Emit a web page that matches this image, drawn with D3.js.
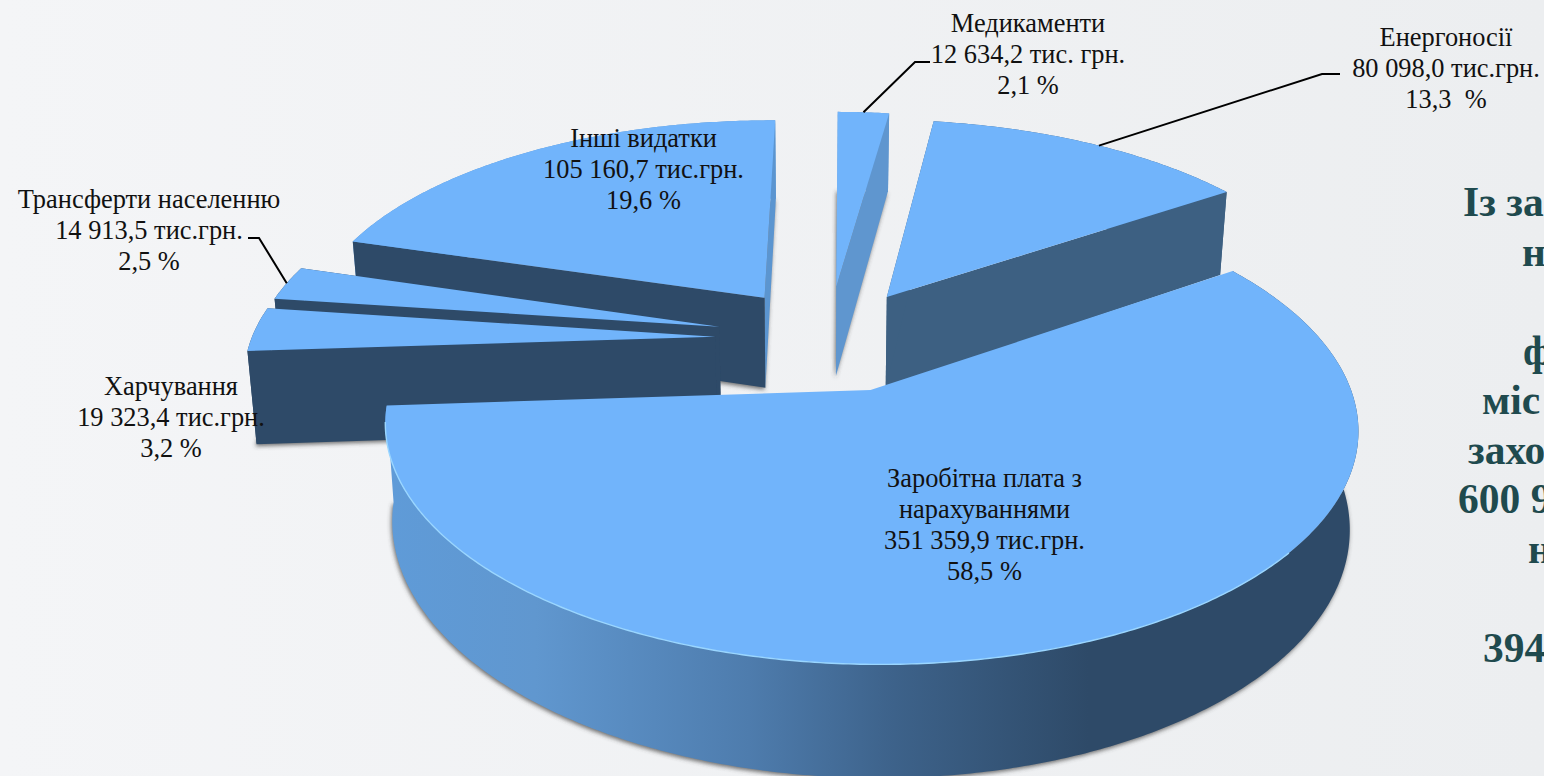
<!DOCTYPE html>
<html>
<head>
<meta charset="utf-8">
<script src="https://cdn.jsdelivr.net/npm/d3@7"></script>
<style>
  html, body { margin: 0; padding: 0; overflow: hidden; background: #f1f2f4; }
  text { font-family: "Liberation Serif", serif; white-space: pre; }
</style>
</head>
<body>
<svg width="1544" height="776"></svg>
<script>
// slice shares in %, clockwise from the big slice
let names = ["Заробітна плата", "Харчування", "Трансферти населенню", "Інші видатки", "Медикаменти", "Енергоносії"];
let shares = [58.4, 3.2, 2.5, 20.5, 2.1, 13.3];

let labels = [
  ["Заробітна плата з", "нарахуваннями", "351 359,9 тис.грн.", "58,5 %"],
  ["Харчування", "19 323,4 тис.грн.", "3,2 %"],
  ["Трансферти населенню", "14 913,5 тис.грн.", "2,5 %"],
  ["Інші видатки", "105 160,7 тис.грн.", "19,6 %"],
  ["Медикаменти", "12 634,2 тис. грн.", "2,1 %"],
  ["Енергоносії", "80 098,0 тис.грн.", "13,3  %"]
];

let noteLines = ["Із за", "н", "", "ф", "міс", "захо", "600 9", "н", "", "394"];

// layout of the fake 3d pie
let explode = [0.292, 0.224, 0.215, 0.195, 0.214, 0.22];
let explodeDir = [158, 262, 274, 322.5, 11, 44]; // degrees clockwise from up
let labelX = [984.5, 171, 149, 643.5, 1028, 1446];
let labelY = [487, 395, 208, 147, 32, 46];
let drawOrder = [4, 5, 3, 2, 1, 0];
let cx = 818, cy = 330, R = 461, Rb = 213, k = 0.15, thick = 92;
let rotation = 56 * Math.PI / 180;

let svg = d3.select("svg");
let defs = svg.append("defs");

let bg = defs.append("linearGradient").attr("id", "bg").attr("x1", 0).attr("x2", 1);
bg.append("stop").attr("offset", 0).attr("stop-color", "#f4f5f7");
bg.append("stop").attr("offset", 1).attr("stop-color", "#eceef0");

let rim = defs.append("linearGradient").attr("id", "rim")
  .attr("gradientUnits", "userSpaceOnUse")
  .attr("x1", 390).attr("x2", 1360).attr("y1", 0).attr("y2", 0);
[[0, "#5f9bd8"], [0.15, "#6097cf"], [0.37, "#4e7cad"], [0.52, "#3d628a"], [0.72, "#2e4a68"], [1, "#2e4a68"]]
  .forEach(function (s) {
    rim.append("stop").attr("offset", s[0]).attr("stop-color", s[1]);
  });

defs.append("filter").attr("id", "blur")
  .attr("x", "-10%").attr("y", "-10%").attr("width", "120%").attr("height", "120%")
  .append("feGaussianBlur").attr("stdDeviation", 2.2);

svg.append("rect").attr("width", 1544).attr("height", 776).attr("fill", "url(#bg)");

// disc coordinates -> screen, with a bit of perspective
function project(u, v, down) {
  let s = 1 / (1 - k * v);
  let x = cx + R * u * s;
  let y = cy + Rb * v * s;
  if (down) {
    x = cx + (x - cx) * 0.984;
    y = y + thick * s;
  }
  return [x, y];
}

let arcs = d3.pie().sort(null).startAngle(rotation).endAngle(rotation + 2 * Math.PI)(shares);
let line = d3.line();

function offsetOf(i) {
  let a = explodeDir[i] * Math.PI / 180;
  return [explode[i] * Math.sin(a), -explode[i] * Math.cos(a)];
}

function rimPoints(d, down) {
  let o = offsetOf(d.index);
  let n = Math.ceil((d.endAngle - d.startAngle) / 0.01);
  return d3.range(n + 1).map(function (i) {
    let a = d.startAngle + (d.endAngle - d.startAngle) * i / n;
    return project(o[0] + Math.sin(a), o[1] - Math.cos(a), down);
  });
}

function apex(d, down) {
  let o = offsetOf(d.index);
  return project(o[0], o[1], down);
}

// side colours differ between slices in the original
let startWall = ["#2e4a68", "#2e4a68", "#2e4a68", "#2e4a68", "#5f96cf", "#3d6082"];
let endWall = ["#2e4a68", "#2e4a68", "#2e4a68", "#5b95d0", "#5f96cf", "#3d6082"];
let outerColor = ["url(#rim)", "#2e4a68", "#2e4a68", "#5b95d0", "#5f96cf", "#3d6082"];

drawOrder.forEach(function (idx) {
  let d = arcs[idx];
  let g = svg.append("g").attr("class", "slice");
  let top = rimPoints(d, false);
  let bottom = rimPoints(d, true);
  let a0 = apex(d, false);
  let a1 = apex(d, true);

  // soft shadow under the slice
  g.append("path")
    .attr("d", line([a1].concat(bottom)) + "Z")
    .attr("transform", "translate(-1,2)")
    .attr("fill", "#444")
    .attr("fill-opacity", idx === 5 ? 0 : 0.75)
    .attr("filter", "url(#blur)");

  // outer wall
  g.append("path")
    .attr("d", line(top.concat(bottom.slice().reverse())) + "Z")
    .attr("fill", outerColor[idx]);

  // radial walls, the big slice never shows them
  if (idx !== 0) {
    g.append("path")
      .attr("d", line([a0, top[top.length - 1], bottom[bottom.length - 1], a1]) + "Z")
      .attr("fill", endWall[idx]);
    g.append("path")
      .attr("d", line([a0, top[0], bottom[0], a1]) + "Z")
      .attr("fill", startWall[idx]);
  }

  // top face
  g.append("path")
    .attr("d", line([a0].concat(top)) + "Z")
    .attr("fill", "#71b4fb");

  // light edge on the front of the big slice
  if (idx === 0) {
    let front = top.filter(function (p, i) {
      return p[0] < 1290 && p[1] > 420;
    });
    g.append("path")
      .attr("d", line(front))
      .attr("fill", "none")
      .attr("stroke", "#9ad6ff")
      .attr("stroke-width", 1.4);
  }
});

// leader lines
let leaders = [
  { idx: 4, at: 0.5, to: [[915, 62], [930, 62]] },
  { idx: 5, at: 0.52, to: [[1322, 74], [1340, 74]] },
  { idx: 2, at: 0.5, to: [[259, 238], [248, 238]] }
];
leaders.forEach(function (l) {
  let pts = rimPoints(arcs[l.idx], false);
  let p = pts[Math.round((pts.length - 1) * l.at)];
  svg.append("path")
    .attr("d", line([p].concat(l.to)))
    .attr("fill", "none")
    .attr("stroke", "#000")
    .attr("stroke-width", 2);
});

// data labels
labels.forEach(function (lines, i) {
  svg.append("g").selectAll("text")
    .data(lines)
    .enter()
    .append("text")
    .attr("x", labelX[i])
    .attr("y", function (d, j) { return labelY[i] + j * 31; })
    .attr("text-anchor", "middle")
    .attr("font-size", "26.4px")
    .attr("fill", "#111")
    .text(function (d) { return d; });
});

// text block on the right, runs off the page
let noteX = [1463, 1522, 0, 1523, 1482, 1468, 1458, 1528, 0, 1483];
svg.append("g").selectAll("text")
  .data(noteLines)
  .enter()
  .append("text")
  .attr("x", function (d, i) { return noteX[i]; })
  .attr("y", function (d, i) { return 216 + i * 49.5; })
  .attr("font-size", "41.5px")
  .attr("font-weight", "bold")
  .attr("fill", "#1f4a4e")
  .text(function (d) { return d; });
</script>
</body>
</html>
